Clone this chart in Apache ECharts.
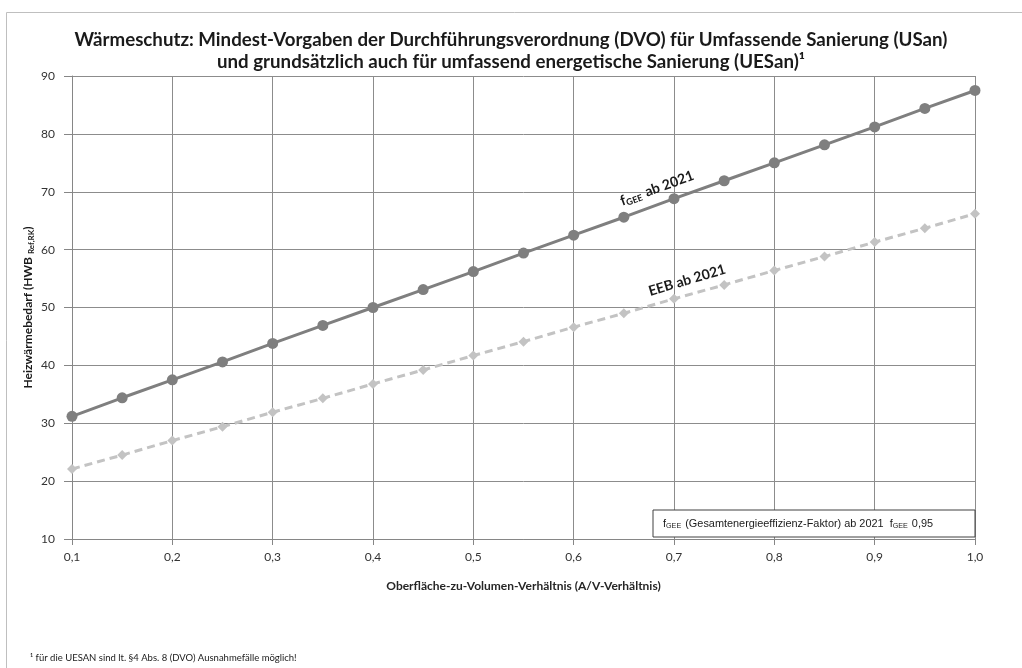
<!DOCTYPE html>
<html>
<head>
<meta charset="utf-8">
<script src="https://cdn.jsdelivr.net/npm/echarts@6/dist/echarts.min.js"></script>
<style>
html,body{margin:0;padding:0;background:#fff;}
#c{width:1022px;height:668px;}
</style>
</head>
<body>
<div id="c"></div>
<script>
// A/V ratio categories
var avRatio = [0.1,0.15,0.2,0.25,0.3,0.35,0.4,0.45,0.5,0.55,0.6,0.65,0.7,0.75,0.8,0.85,0.9,0.95,1.0];
// fGEE ab 2021
var fgeeValues = [31.2,34.4,37.5,40.6,43.8,46.9,50.0,53.1,56.2,59.4,62.5,65.6,68.8,71.9,75.0,78.1,81.2,84.4,87.5];
// EEB ab 2021
var eebValues = [22.1,24.5,27.0,29.4,31.9,34.3,36.8,39.2,41.7,44.1,46.6,49.0,51.5,53.9,56.4,58.8,61.3,63.7,66.2];
var yTicks = {min:10, max:90, step:10};
var xTicks = {min:0.1, max:1.0, step:0.1};

var titleText = 'Wärmeschutz: Mindest-Vorgaben der Durchführungsverordnung (DVO) für Umfassende Sanierung (USan)\nund grundsätzlich auch für umfassend energetische Sanierung (UESan)¹';
var xName = 'Oberfläche-zu-Volumen-Verhältnis (A/V-Verhältnis)';
var footnote = '¹ für die UESAN sind lt. §4 Abs. 8 (DVO) Ausnahmefälle möglich!';

function pairs(xs, ys){ return xs.map(function(x,i){ return [x, ys[i]]; }); }

var FONT = 'Lato';
var chart = echarts.init(document.getElementById('c'), null, {renderer:'canvas'});
var option = {
  backgroundColor:'#ffffff',
  animation:false,
  title:{
    text:titleText, left:'center', top:24,
    textStyle:{fontFamily:FONT, fontSize:18.7, fontWeight:'bold', color:'#1a1a1a', lineHeight:22}
  },
  grid:{left:72, right:47, top:76, bottom:129, containLabel:false},
  xAxis:{
    type:'value', min:xTicks.min, max:xTicks.max, interval:xTicks.step,
    name:xName, nameLocation:'middle', nameGap:41, nameMoveOverlap:false,
    nameTextStyle:{fontFamily:FONT, fontSize:12, fontWeight:'bold', color:'#262626'},
    axisLine:{show:true, lineStyle:{color:'#868686', width:1}},
    axisTick:{show:true, length:6, lineStyle:{color:'#868686'}},
    axisLabel:{margin:12, fontFamily:FONT, fontSize:12, color:'#333', formatter:function(v){return v.toFixed(1).replace('.',',');}},
    splitLine:{show:true, lineStyle:{color:'#8c8c8c', width:1}}
  },
  yAxis:{
    type:'value', min:yTicks.min, max:yTicks.max, interval:yTicks.step,
    name:'{a|Heizwärmebedarf (HWB }{s|Ref,RK}{a|)}', nameLocation:'middle', nameGap:37, nameRotate:90, nameMoveOverlap:false,
    nameTextStyle:{rich:{
      a:{fontFamily:FONT, fontSize:12, fontWeight:'bold', color:'#1a1a1a', lineHeight:14},
      s:{fontFamily:FONT, fontSize:8, fontWeight:'bold', color:'#1a1a1a', verticalAlign:'bottom', lineHeight:8, padding:[6,0,0,0]}
    }},
    axisLine:{show:true, lineStyle:{color:'#868686', width:1}},
    axisTick:{show:true, length:8, lineStyle:{color:'#868686'}},
    axisLabel:{margin:17, fontFamily:FONT, fontSize:12, color:'#333'},
    splitLine:{show:true, lineStyle:{color:'#8c8c8c', width:1}}
  },
  series:[
    {
      name:'fGEE ab 2021', type:'line', data:pairs(avRatio, fgeeValues),
      symbol:'circle', symbolSize:11,
      lineStyle:{color:'#7f7f7f', width:3},
      itemStyle:{color:'#7f7f7f'}, z:3
    },
    {
      name:'EEB ab 2021', type:'line', data:pairs(avRatio, eebValues),
      symbol:'diamond', symbolSize:10,
      lineStyle:{color:'#c3c3c3', width:3, type:[8,5]},
      itemStyle:{color:'#c3c3c3'}, z:2
    }
  ]
};
chart.setOption(option);

var p1 = chart.convertToPixel({gridIndex:0}, [0.683, 70.6]);
var p2 = chart.convertToPixel({gridIndex:0}, [0.713, 54.7]);
var gb = chart.convertToPixel({gridIndex:0}, [1.0, 10]);

chart.setOption({
  graphic:[
    {type:'rect', left:4, top:10, shape:{width:1100, height:800}, silent:true,
     style:{fill:'none', stroke:'#bfbfbf', lineWidth:1}, z:-10},
    {type:'text', x:p1[0], y:p1[1], rotation:20*Math.PI/180, z:10,
     style:{text:'{a|f}{s|GEE}{a| ab 2021}', align:'center', verticalAlign:'middle',
       rich:{
         a:{fontFamily:FONT, fontSize:14, fontWeight:'bold', fill:'#1a1a1a', lineHeight:16},
         s:{fontFamily:FONT, fontSize:9, fontWeight:'bold', fill:'#1a1a1a', verticalAlign:'bottom', lineHeight:9, padding:[6,1,0,0]}
       }}},
    {type:'text', x:p2[0], y:p2[1], rotation:16.5*Math.PI/180, z:10,
     style:{text:'EEB ab 2021', align:'center', verticalAlign:'middle',
       fontFamily:FONT, fontSize:14, fontWeight:'bold', fill:'#1a1a1a'}},
    {type:'group', x:gb[0]-322, y:gb[1]-29, z:10, children:[
      {type:'rect', shape:{x:0, y:0, width:322, height:27}, style:{fill:'#fff', stroke:'#404040', lineWidth:1}},
      {type:'text', x:10, y:13.5,
       style:{text:'{a|f}{s|GEE}{a| (Gesamtenergieeffizienz-Faktor) ab 2021  f}{s|GEE}{a| 0,95}', verticalAlign:'middle',
         rich:{
           a:{fontFamily:'Liberation Sans', fontSize:10.9, fill:'#1a1a1a', lineHeight:13},
           s:{fontFamily:'Liberation Sans', fontSize:7.2, fill:'#1a1a1a', verticalAlign:'bottom', lineHeight:7, padding:[5,1,0,0]}
         }}}
    ]},
    {type:'text', left:30, top:653, style:{text:footnote, fontFamily:FONT, fontSize:9.5, fill:'#1a1a1a'}}
  ]
});
</script>
</body>
</html>
